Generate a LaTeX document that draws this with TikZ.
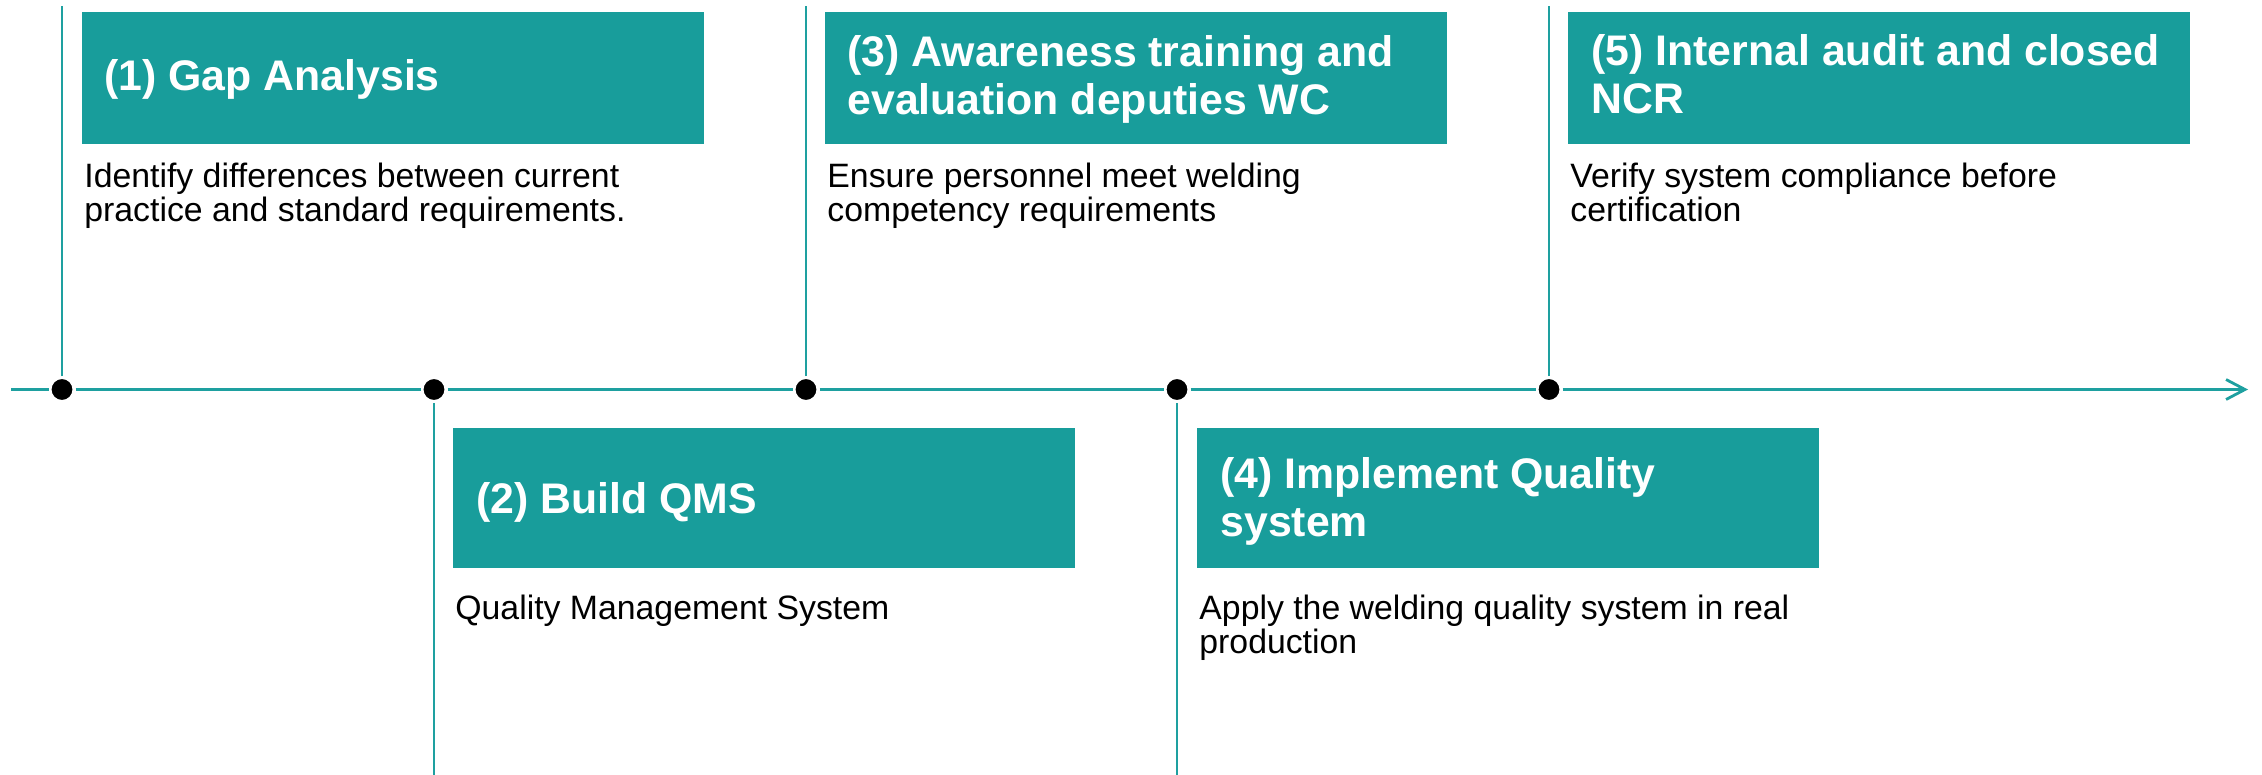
\documentclass[tikz,border=0pt]{standalone}
\usepackage{fontspec}
\setmainfont{Liberation Sans}
\usetikzlibrary{arrows.meta}
\definecolor{teal1}{RGB}{24,157,155}
\definecolor{teal2}{RGB}{30,160,160}
\tikzset{
  tbox/.style={fill=teal1, draw=none, anchor=north west, inner sep=0pt, minimum width=311pt},
  ttl/.style={anchor=base west, inner sep=0pt, text=white, align=left,
    font=\fontsize{21.4pt}{24pt}\selectfont\bfseries},
  dsc/.style={anchor=base west, inner sep=0pt, text=black, align=left,
    font=\fontsize{16.9pt}{17pt}\selectfont},
  dot/.style={circle, fill=black, draw=white, line width=1.5pt, minimum size=12pt, inner sep=0pt},
  axisline/.style={draw=teal2, line width=1.4pt},
  vline/.style={draw=teal2, line width=0.85pt}
}
\begin{document}
\begin{tikzpicture}[x=0.5pt,y=-0.5pt]
\useasboundingbox (0,0) rectangle (2262,775);
% dots
\node[dot] (d1) at (62,389.5) {};
\node[dot] (d2) at (434,389.5) {};
\node[dot] (d3) at (806,389.5) {};
\node[dot] (d4) at (1177,389.5) {};
\node[dot] (d5) at (1549,389.5) {};
\coordinate (axL) at (11,389.5);
\coordinate (axR) at (2248,389.5);
\draw[axisline] (axL) -- (d1) -- (d2) -- (d3) -- (d4) -- (d5);
\draw[axisline,-{Straight Barb[length=9.5pt,width=10pt,line width=1.4pt]}] (d5) -- (axR);
% vertical lines
\coordinate (v1) at (62,6);
\coordinate (v2) at (434,775);
\coordinate (v3) at (806,6);
\coordinate (v4) at (1177,775);
\coordinate (v5) at (1549,6);
\draw[vline] (d1) -- (v1);
\draw[vline] (d2) -- (v2);
\draw[vline] (d3) -- (v3);
\draw[vline] (d4) -- (v4);
\draw[vline] (d5) -- (v5);
% boxes
\node[tbox, minimum height=66pt] (b1) at (82,11.5) {};
\node[tbox, minimum height=70pt] (b2) at (453,428) {};
\node[tbox, minimum height=66pt] (b3) at (825,11.5) {};
\node[tbox, minimum height=70pt] (b4) at (1197,428) {};
\node[tbox, minimum height=66pt] (b5) at (1568,11.5) {};
% titles (base anchor = baseline of the last line)
\node[ttl] (t1) at (104,91) {(1) Gap Analysis};
\node[ttl] (t2) at (476,513) {(2) Build QMS};
\node[ttl] (t3) at (847,115) {(3) Awareness training and\\evaluation deputies WC};
\node[ttl] (t4) at (1220,536) {(4) Implement Quality\\system};
\node[ttl] (t5) at (1591,114) {(5) Internal audit and closed\\NCR};
% descriptions
\node[dsc] (s1) at (84,221) {Identify differences between current\\practice and standard requirements.};
\node[dsc] (s2) at (455,619) {Quality Management System};
\node[dsc] (s3) at (827,221) {Ensure personnel meet welding\\competency requirements};
\node[dsc] (s4) at (1199,653) {Apply the welding quality system in real\\production};
\node[dsc] (s5) at (1570,221) {Verify system compliance before\\certification};
\end{tikzpicture}
\end{document}
